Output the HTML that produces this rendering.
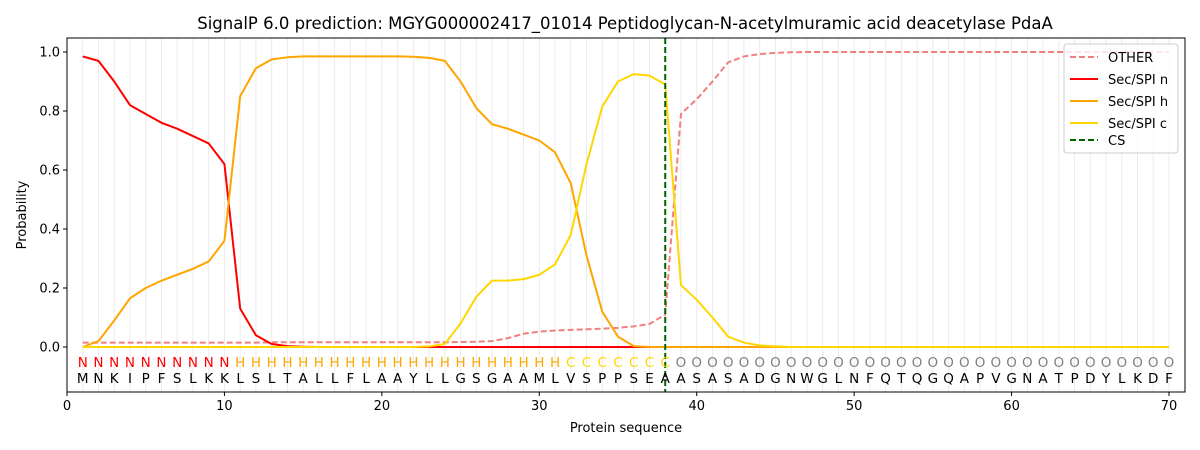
<!DOCTYPE html>
<html><head><meta charset="utf-8"><style>
body{margin:0;background:#fff}
svg{display:block;font-family:"DejaVu Sans","Liberation Sans",sans-serif}
</style></head><body>
<svg id="chart" width="1200" height="450" viewBox="0 0 1200 450" xmlns="http://www.w3.org/2000/svg">
<text x="625" y="29" font-size="16.5" text-anchor="middle">SignalP 6.0 prediction: MGYG000002417_01014 Peptidoglycan-N-acetylmuramic acid deacetylase PdaA</text>
<g id="grid"></g><g id="series"></g><g id="labels"></g><g id="axes"></g>
<g>
<rect x="1064" y="44" width="114" height="109" rx="3" fill="#fff" fill-opacity="0.8" stroke="#ccc"/>
<g><line x1="1070" y1="57" x2="1098" y2="57" stroke="#f08080" stroke-width="2" stroke-dasharray="6,3"/><text x="1108" y="62" font-size="13">OTHER</text></g>
<g><line x1="1070" y1="79" x2="1098" y2="79" stroke="#ff0000" stroke-width="2"/><text x="1108" y="84" font-size="13">Sec/SPI n</text></g>
<g><line x1="1070" y1="101" x2="1098" y2="101" stroke="#ffa500" stroke-width="2"/><text x="1108" y="106" font-size="13">Sec/SPI h</text></g>
<g><line x1="1070" y1="123" x2="1098" y2="123" stroke="#ffd700" stroke-width="2"/><text x="1108" y="128" font-size="13">Sec/SPI c</text></g>
<g><line x1="1070" y1="140" x2="1098" y2="140" stroke="#006400" stroke-width="2" stroke-dasharray="6,3"/><text x="1108" y="145" font-size="13">CS</text></g>
</g>
</svg>
<script>
const sequence = "MNKIPFSLKKLSLTALLFLAAYLLGSGAAMLVSPPSEAASASADGNWGLNFQTQGQAPVGNATPDYLKDF";
const regionLabels = "NNNNNNNNNNHHHHHHHHHHHHHHHHHHHHHCCCCCCCOOOOOOOOOOOOOOOOOOOOOOOOOOOOOOOO";
const nVals = [0.985,0.97,0.9,0.82,0.79,0.76,0.74,0.715,0.69,0.62,0.13,0.04,0.01,0.003,0.001,0,0,0,0,0,0,0,0,0,0,0,0,0,0,0,0,0,0,0,0,0,0,0,0,0,0,0,0,0,0,0,0,0,0,0,0,0,0,0,0,0,0,0,0,0,0,0,0,0,0,0,0,0,0,0];
const hVals = [0,0.02,0.09,0.165,0.2,0.225,0.245,0.265,0.29,0.36,0.85,0.945,0.975,0.982,0.985,0.985,0.985,0.985,0.985,0.985,0.985,0.984,0.98,0.97,0.9,0.81,0.755,0.74,0.72,0.7,0.66,0.555,0.31,0.12,0.035,0.003,0,0,0,0,0,0,0,0,0,0,0,0,0,0,0,0,0,0,0,0,0,0,0,0,0,0,0,0,0,0,0,0,0,0];
const cVals = [0,0,0,0,0,0,0,0,0,0,0,0,0,0,0,0,0,0,0,0,0,0,0.002,0.01,0.08,0.17,0.225,0.225,0.23,0.245,0.28,0.38,0.62,0.815,0.9,0.925,0.92,0.89,0.21,0.16,0.1,0.035,0.015,0.005,0.002,0,0,0,0,0,0,0,0,0,0,0,0,0,0,0,0,0,0,0,0,0,0,0,0,0];
const otherVals = [0.015,0.015,0.015,0.015,0.015,0.015,0.015,0.015,0.015,0.015,0.015,0.015,0.016,0.016,0.016,0.016,0.016,0.016,0.016,0.016,0.016,0.016,0.016,0.016,0.017,0.018,0.02,0.03,0.045,0.052,0.056,0.058,0.06,0.062,0.065,0.07,0.078,0.11,0.79,0.84,0.9,0.965,0.985,0.993,0.997,0.999,1,1,1,1,1,1,1,1,1,1,1,1,1,1,1,1,1,1,1,1,1,1,1,1];
const csPos = 38;
const xTicks = [0,10,20,30,40,50,60,70];
const yTicks = [0,0.2,0.4,0.6,0.8,1.0];

const NS="http://www.w3.org/2000/svg";
const L=67,R=1185,T=38,B=392;
const x=v=>L+v*(1169-67)/70;
const y=v=>347-v*295;
function mk(tag,attrs,parent,text){const e=document.createElementNS(NS,tag);for(const k in attrs)e.setAttribute(k,attrs[k]);if(text!==undefined)e.textContent=text;document.getElementById(parent).appendChild(e);return e;}

for(let i=1;i<=sequence.length;i++){
  const g=mk('line',{x1:x(i),x2:x(i),y1:T,y2:B,stroke:'#ebebeb','stroke-width':1},'grid');
  
  
}
const colors={N:'#ff0000',H:'#ffa500',C:'#ffd700',O:'#808080'};
for(let i=0;i<sequence.length;i++){
  const t1=mk('text',{x:x(i+1),y:367,'font-size':13.5,'text-anchor':'middle',fill:colors[regionLabels[i]]},'labels',regionLabels[i]);
  
  
  const t2=mk('text',{x:x(i+1),y:383,'font-size':13.5,'text-anchor':'middle',fill:'#000'},'labels',sequence[i]);
  
  
}
function line(vals,color,dash,name){
  const d=vals.map((v,i)=>(i?'L':'M')+x(i+1).toFixed(2)+','+y(v).toFixed(2)).join('');
  const p=mk('path',{d:d,fill:'none',stroke:color,'stroke-width':2,'stroke-dasharray':dash||'none','stroke-linejoin':'round'},'series');
  
  
}
line(otherVals,'#f08080','6,3','other-line');
line(nVals,'#ff0000',null,'sec-spi-n-line');
line(hVals,'#ffa500',null,'sec-spi-h-line');
line(cVals,'#ffd700',null,'sec-spi-c-line');
const cs=mk('line',{x1:x(csPos),x2:x(csPos),y1:T,y2:B,stroke:'#006400','stroke-width':2,'stroke-dasharray':'6,3'},'series');



const fr=mk('rect',{x:L,y:T,width:R-L,height:B-T,fill:'none',stroke:'#000','stroke-width':1},'axes');


xTicks.forEach(v=>{
  mk('line',{x1:x(v),x2:x(v),y1:B,y2:B+4,stroke:'#000'},'axes');
  const t=mk('text',{x:x(v),y:B+18,'font-size':13,'text-anchor':'middle'},'axes',String(v));
  
  
});
yTicks.forEach(v=>{
  mk('line',{x1:L-4,x2:L,y1:y(v),y2:y(v),stroke:'#000'},'axes');
  const t=mk('text',{x:L-7,y:y(v)+4.5,'font-size':13,'text-anchor':'end'},'axes',v.toFixed(1));
  
  
});
const xt=mk('text',{x:(L+R)/2,y:432,'font-size':13,'text-anchor':'middle'},'axes','Protein sequence');


const yt=mk('text',{x:0,y:0,'font-size':13,'text-anchor':'middle',transform:'translate(26,215) rotate(-90)'},'axes','Probability');


</script>
</body></html>
